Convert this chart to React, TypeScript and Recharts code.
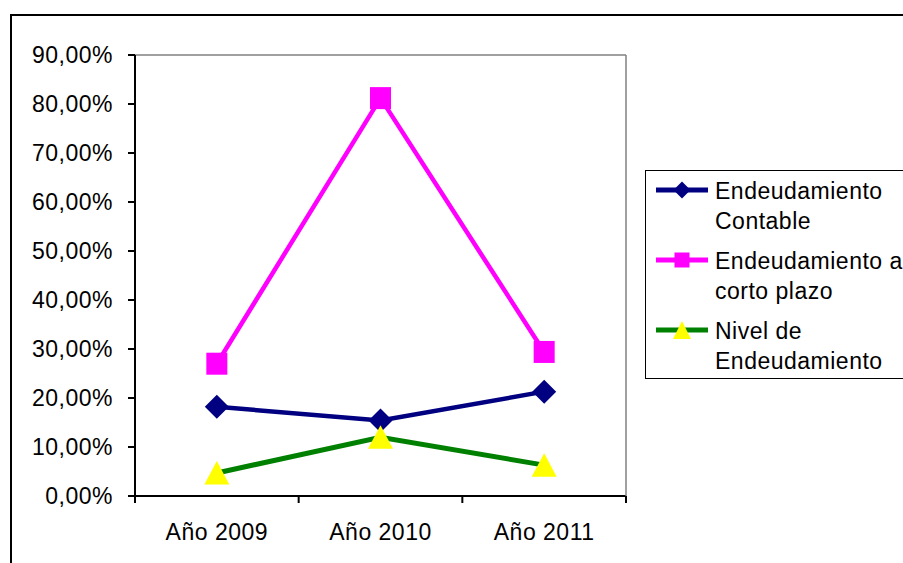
import React from 'react';
import { LineChart, Line, XAxis, YAxis } from 'recharts';

const categories = ['Año 2009', 'Año 2010', 'Año 2011'];
const contable = [18.2, 15.4, 21.3];
const cortoPlazo = [27.0, 81.2, 29.4];
const nivel = [4.7, 12.0, 6.3];
const yTicks = [0, 10, 20, 30, 40, 50, 60, 70, 80, 90];

const seriesNames = ['Endeudamiento Contable', 'Endeudamiento a corto plazo', 'Nivel de Endeudamiento'];
const legendLines = [['Endeudamiento', 'Contable'], ['Endeudamiento a', 'corto plazo'], ['Nivel de', 'Endeudamiento']];

const data = categories.map((c, i) => ({
  name: c,
  contable: contable[i],
  corto: cortoPlazo[i],
  nivel: nivel[i],
}));

const W = 903;
const H = 563;
const PLOT_LEFT = 135;
const PLOT_TOP = 55;
const PLOT_RIGHT = 626;
const X_AXIS_H = 67;
const AXIS_Y = H - X_AXIS_H;
const FONT = '"Liberation Sans", Arial, sans-serif';
const LS = '0.5px';

const NAVY = '#000080';
const MAGENTA = '#FF00FF';
const GREEN = '#008000';
const YELLOW = '#FFFF00';

const Diamond = (props: any) => {
  const { cx, cy } = props;
  if (cx == null || cy == null) return null;
  return <polygon points={`${cx},${cy - 12} ${cx + 12},${cy} ${cx},${cy + 12} ${cx - 12},${cy}`} fill={NAVY} />;
};
const Square = (props: any) => {
  const { cx, cy } = props;
  if (cx == null || cy == null) return null;
  return <rect x={cx - 10.5} y={cy - 11} width={21} height={22} fill={MAGENTA} />;
};
const Triangle = (props: any) => {
  const { cx, cy } = props;
  if (cx == null || cy == null) return null;
  return <polygon points={`${cx},${cy - 12} ${cx + 12.5},${cy + 11.5} ${cx - 12.5},${cy + 11.5}`} fill={YELLOW} />;
};

const fmt = (v: number) => v.toFixed(2).replace('.', ',') + '%';

const XTick = (props: any) => {
  const { x, payload, index, visibleTicksCount } = props;
  const off = payload && typeof payload.offset === 'number' && payload.offset > 0 ? payload.offset : (PLOT_RIGHT - PLOT_LEFT) / categories.length / 2;
  const isLast = index === (visibleTicksCount ?? categories.length) - 1;
  return (
    <g>
      <line x1={x - off} y1={AXIS_Y} x2={x - off} y2={AXIS_Y + 7} stroke="#000" strokeWidth={2} />
      {isLast && <line x1={x + off} y1={AXIS_Y} x2={x + off} y2={AXIS_Y + 7} stroke="#000" strokeWidth={2} />}
      <text x={x} y={AXIS_Y + 44} textAnchor="middle" fill="#000" fontSize={23} fontFamily={FONT} letterSpacing={LS}>
        {payload.value}
      </text>
    </g>
  );
};

const LegendIcon = ({ idx }: { idx: number }) => {
  const color = [NAVY, MAGENTA, GREEN][idx];
  const cx = 26;
  const cy = 12;
  let marker: any = null;
  if (idx === 0) marker = <polygon points={`${cx},${cy - 8.5} ${cx + 8.5},${cy} ${cx},${cy + 8.5} ${cx - 8.5},${cy}`} fill={NAVY} />;
  if (idx === 1) marker = <rect x={cx - 7.5} y={cy - 7.5} width={15} height={15} fill={MAGENTA} />;
  if (idx === 2) marker = <polygon points={`${cx},${cy - 9} ${cx + 9},${cy + 9} ${cx - 9},${cy + 9}`} fill={YELLOW} />;
  return (
    <svg width={54} height={24} style={{ position: 'absolute', left: 10, top: -1 }}>
      <line x1={0} y1={cy} x2={52} y2={cy} stroke={color} strokeWidth={5} />
      {marker}
    </svg>
  );
};

export default function App() {
  return (
    <div style={{ position: 'absolute', left: 0, top: 0, width: W, height: H, overflow: 'hidden', background: '#fff' }}>
      <div style={{ position: 'absolute', left: 10, top: 14, width: 1000, height: 800, borderTop: '2px solid #000', borderLeft: '2px solid #000', boxSizing: 'border-box' }} />
      <div style={{ position: 'absolute', left: 0, top: 0 }}>
        <LineChart width={W} height={H} data={data} margin={{ top: PLOT_TOP - 1, right: W - PLOT_RIGHT - 1, bottom: 0, left: 0 }}>
          <XAxis
            dataKey="name"
            xAxisId="main"
            scale="band"
            height={X_AXIS_H}
            stroke="#000"
            strokeWidth={2}
            axisLine={true}
            tickLine={false}
            tick={<XTick />}
            interval={0}
          />
          <XAxis xAxisId="top" orientation="top" dataKey="name" scale="band" height={1} tick={false} tickLine={false} stroke="#808080" strokeWidth={1.5} axisLine={true} />
          <YAxis
            yAxisId="left"
            width={PLOT_LEFT}
            domain={[0, 90]}
            ticks={yTicks}
            tickFormatter={fmt}
            stroke="#000"
            strokeWidth={2}
            axisLine={true}
            tickLine={true}
            tickSize={7}
            tickMargin={15}
            tick={{ fill: '#000', fontSize: 23, fontFamily: FONT, stroke: 'none', letterSpacing: LS }}
            interval={0}
          />
          <YAxis yAxisId="right" orientation="right" width={1} domain={[0, 90]} tick={false} tickLine={false} stroke="#808080" strokeWidth={1.5} axisLine={true} />
          <Line xAxisId="main" yAxisId="left" dataKey="contable" name={seriesNames[0]} stroke={NAVY} strokeWidth={4.5} dot={<Diamond />} activeDot={false} isAnimationActive={false} />
          <Line xAxisId="main" yAxisId="left" dataKey="corto" name={seriesNames[1]} stroke={MAGENTA} strokeWidth={4.5} dot={<Square />} activeDot={false} isAnimationActive={false} />
          <Line xAxisId="main" yAxisId="left" dataKey="nivel" name={seriesNames[2]} stroke={GREEN} strokeWidth={5} dot={<Triangle />} activeDot={false} isAnimationActive={false} />
        </LineChart>
      </div>
      <div style={{ position: 'absolute', left: 645, top: 170, width: 400, height: 209, border: '1.5px solid #000', boxSizing: 'border-box', background: '#fff', fontFamily: FONT, fontSize: 23, color: '#000', letterSpacing: LS }}>
        {legendLines.map((lines, i) => (
          <div key={i} style={{ position: 'absolute', left: 0, top: 8 + i * 70, width: 300, height: 60 }}>
            <div style={{ position: 'absolute', left: 0, top: 0 }}>
              <LegendIcon idx={i} />
            </div>
            <div style={{ position: 'absolute', left: 69, top: -2, lineHeight: '29.5px', whiteSpace: 'nowrap' }}>
              {lines.map((t, j) => (
                <div key={j}>{t}</div>
              ))}
            </div>
          </div>
        ))}
      </div>
    </div>
  );
}
